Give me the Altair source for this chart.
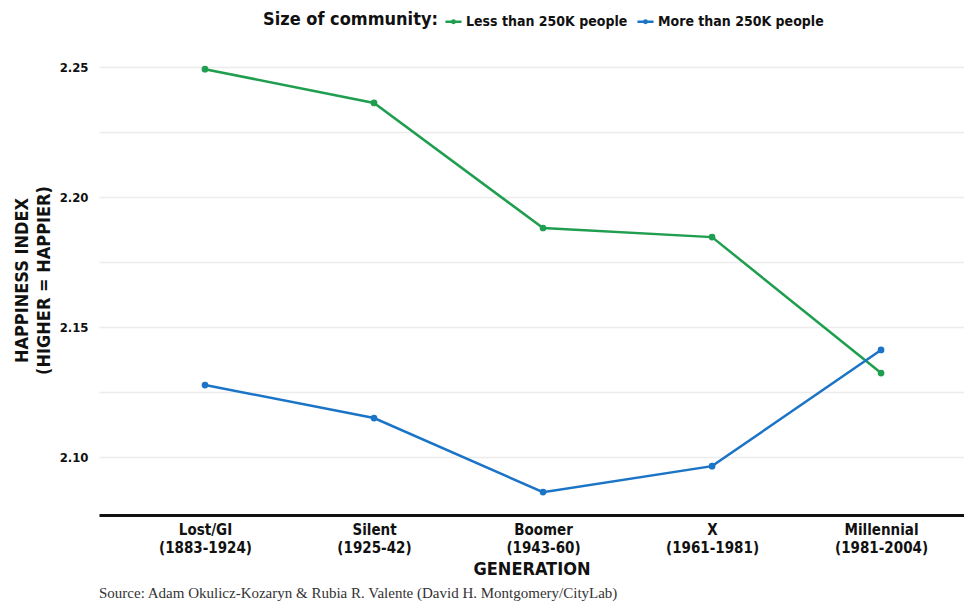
import altair as alt
import pandas as pd

generations = ["Lost/GI\n(1883-1924)", "Silent\n(1925-42)", "Boomer\n(1943-60)",
               "X\n(1961-1981)", "Millennial\n(1981-2004)"]
series_names = ["Less than 250K people", "More than 250K people"]
less_250k = [2.2492, 2.2362, 2.1881, 2.1846, 2.1323]
more_250k = [2.1277, 2.1150, 2.0865, 2.0965, 2.1412]
grid_values = [2.100, 2.125, 2.150, 2.175, 2.200, 2.225, 2.250]
colors = ["#1f9e50", "#1b74c6"]

rows = []
for g, a, b in zip(generations, less_250k, more_250k):
    rows.append({"gen": g, "value": a, "series": series_names[0]})
    rows.append({"gen": g, "value": b, "series": series_names[1]})
df = pd.DataFrame(rows)

FONT = "DejaVu Sans Condensed, Liberation Sans Narrow, sans-serif"

base = alt.Chart(df).encode(
    x=alt.X("gen:N", sort=generations,
            scale=alt.Scale(type="point", padding=0.559, align=0.561),
            axis=alt.Axis(title="GENERATION", labelAngle=0,
                          labelExpr="split(datum.label, '\\n')",
                          labelFont=FONT, labelFontWeight="bold", labelFontSize=15,
                          labelColor="#111", labelLineHeight=18, labelPadding=7,
                          titleFont=FONT, titleFontWeight="bold", titleFontSize=18,
                          titleColor="#111", titlePadding=5,
                          ticks=False, grid=False, domain=True,
                          domainColor="#111", domainWidth=3)),
    y=alt.Y("value:Q",
            scale=alt.Scale(domain=[2.0777, 2.2585], nice=False, zero=False),
            axis=alt.Axis(title=["HAPPINESS INDEX", "(HIGHER = HAPPIER)"],
                          values=grid_values,
                          labelExpr="(round(datum.value*1000) % 50 == 0) ? format(datum.value, '.2f') : ''",
                          labelFont=FONT, labelFontWeight="bold", labelFontSize=13,
                          labelColor="#111", labelPadding=11,
                          titleFont=FONT, titleFontWeight="bold", titleFontSize=18,
                          titleColor="#111", titlePadding=6, titleLineHeight=22,
                          ticks=False, domain=False, grid=True,
                          gridColor="#ececec", gridWidth=1.5)),
    color=alt.Color("series:N", sort=series_names,
                    scale=alt.Scale(domain=series_names, range=colors),
                    legend=alt.Legend(title="Size of community:", orient="none",
                                      legendX=164, legendY=-33,
                                      direction="horizontal", titleOrient="left",
                                      titleFont=FONT, titleFontWeight="bold",
                                      titleFontSize=18, titleColor="#111",
                                      labelFont=FONT, labelFontWeight="bold",
                                      labelFontSize=14, labelColor="#111",
                                      labelLimit=0,
                                      symbolType="M-1,0L1,0M-0.15,0a0.15,0.15 0 1,0 0.3,0a0.15,0.15 0 1,0 -0.3,0",
                                      symbolSize=260, symbolStrokeWidth=2.5,
                                      columnPadding=4, labelOffset=3, titlePadding=6)),
)

lines = base.mark_line(strokeWidth=2.5)
points = base.mark_circle(size=45, opacity=1)

chart = (lines + points).properties(
    width=865, height=470,
    background="white",
    padding={"left": 5, "top": 4, "right": 0, "bottom": 0},
    title=alt.TitleParams("Source: Adam Okulicz-Kozaryn & Rubia R. Valente (David H. Montgomery/CityLab)",
                          orient="bottom", anchor="start", frame="group",
                          font="Liberation Serif",
                          fontSize=15, fontWeight="normal", color="#333", offset=8),
).configure_view(strokeWidth=0, stroke=None)

chart.save("out.html", embed_options={"renderer": "svg", "actions": False})
